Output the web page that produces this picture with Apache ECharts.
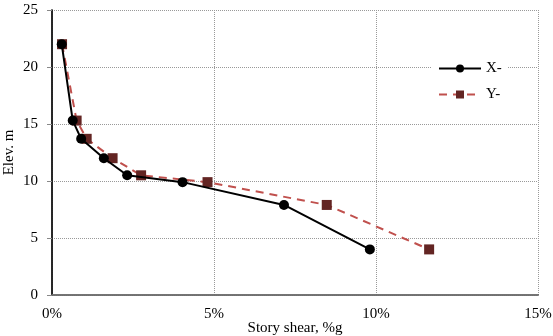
<!DOCTYPE html>
<html><head><meta charset="utf-8">
<script src="https://cdn.jsdelivr.net/npm/echarts@6/dist/echarts.min.js"></script>
<style>html,body{margin:0;padding:0;background:#fff}#c{width:553px;height:336px}</style>
</head><body><div id="c"></div>
<script>
const xTicks = ['0%','5%','10%','15%'];
const yTicks = [0,5,10,15,20,25];
const shearX = [0.30,0.64,0.90,1.60,2.32,4.03,7.16,9.81];
const elevX  = [22.0,15.3,13.7,12.0,10.5,9.9,7.9,4.0];
const shearY = [0.31,0.76,1.07,1.87,2.75,4.80,8.48,11.64];
const elevY  = [22.0,15.3,13.7,12.0,10.5,9.9,7.9,4.0];
const seriesNames = ['X-','Y-'];

const font = 'Liberation Serif';
const chart = echarts.init(document.getElementById('c'), null, {renderer:'canvas'});
chart.setOption({
  animation:false,
  textStyle:{fontFamily:font},
  grid:{left:52,top:10,right:15,bottom:41,containLabel:false,outerBoundsMode:'none'},
  legend:{
    data:seriesNames, orient:'vertical', left:432, top:57,
    itemWidth:42, itemHeight:10, itemGap:11,
    backgroundColor:'#fff', padding:[4,6,4,6],
    textStyle:{fontFamily:font,fontSize:15,color:'#000'}
  },
  xAxis:[{
    type:'value', min:0, max:15, interval:5,
    name:'Story shear, %g', nameLocation:'middle', nameGap:26, nameMoveOverlap:false,
    nameTextStyle:{fontFamily:font,fontSize:15,color:'#000'},
    axisLine:{show:true,onZero:false,lineStyle:{color:'#000',width:1.5}},
    axisTick:{show:false},
    axisLabel:{fontFamily:font,fontSize:15,color:'#000',margin:12,
      formatter:v=>xTicks[Math.round(v/5)]},
    splitLine:{show:true,lineStyle:{color:'#999',type:[1,1],width:1}}
  },{
    type:'value', position:'top', min:0, max:15,
    axisLine:{show:true,lineStyle:{color:'#888',width:1.5}},
    axisTick:{show:false}, axisLabel:{show:false}, splitLine:{show:false}
  }],
  yAxis:[{
    type:'value', min:0, max:25, interval:5,
    name:'Elev. m', nameLocation:'middle', nameGap:35, nameMoveOverlap:false,
    nameTextStyle:{fontFamily:font,fontSize:15,color:'#000'},
    axisLine:{show:true,lineStyle:{color:'#888',width:1.5}},
    axisTick:{show:true,length:5,lineStyle:{color:'#888'}},
    axisLabel:{fontFamily:font,fontSize:15,color:'#000',margin:14,
      formatter:v=>String(yTicks[Math.round(v/5)])},
    splitLine:{show:true,lineStyle:{color:'#999',type:[1,1],width:1}}
  },{
    type:'value', position:'right', min:0, max:25,
    axisLine:{show:true,lineStyle:{color:'#000',width:1.5}},
    axisTick:{show:false}, axisLabel:{show:false}, splitLine:{show:false}
  }],
  series:[{
    name:seriesNames[0], type:'line',
    data:shearX.map((x,i)=>[x,elevX[i]]),
    symbol:'circle', symbolSize:10,
    itemStyle:{color:'#000'},
    lineStyle:{color:'#000',width:2}, z:3
  },{
    name:seriesNames[1], type:'line',
    data:shearY.map((x,i)=>[x,elevY[i]]),
    symbol:'rect', symbolSize:10,
    itemStyle:{color:'#632523'},
    lineStyle:{color:'#C0504D',width:2,type:[8,6]}, z:2
  }]
});
</script></body></html>
